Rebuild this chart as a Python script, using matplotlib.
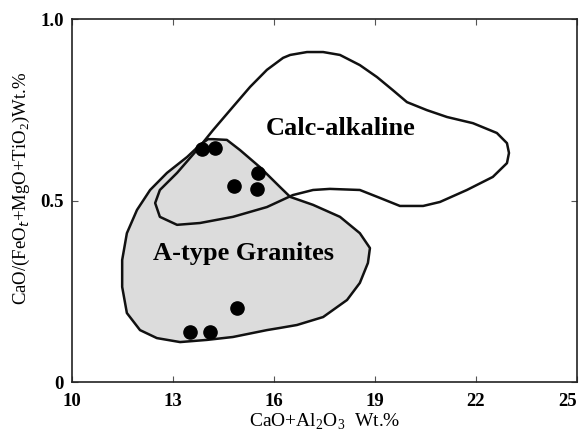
import matplotlib
matplotlib.use("Agg")
import matplotlib.pyplot as plt

# Field outlines (CaO+Al2O3, CaO/(FeOt+MgO+TiO2))
a_type_x = [14.04, 14.19, 14.60, 14.99, 15.58, 16.18, 16.48, 17.16, 17.96, 18.55,
            18.85, 18.79, 18.55, 18.17, 17.46, 16.68, 16.18, 15.79, 14.78, 14.01,
            13.21, 12.52, 12.02, 11.63, 11.49, 11.49, 11.63, 11.93, 12.32, 12.82,
            13.42, 13.80]
a_type_y = [0.669, 0.669, 0.667, 0.639, 0.592, 0.537, 0.510, 0.488, 0.455, 0.410,
            0.369, 0.328, 0.273, 0.226, 0.179, 0.157, 0.149, 0.143, 0.124, 0.116,
            0.110, 0.121, 0.143, 0.190, 0.262, 0.336, 0.410, 0.474, 0.529, 0.576,
            0.620, 0.653]

calc_alk_x = [12.47, 12.61, 13.12, 13.80, 14.78, 15.79, 16.56, 17.16, 17.66, 18.55,
              19.15, 19.74, 20.43, 20.93, 21.73, 22.50, 22.92, 22.98, 22.92, 22.62,
              21.91, 21.14, 20.54, 19.95, 19.53, 19.06, 18.55, 17.96, 17.46, 16.98,
              16.48, 16.27, 15.79, 15.29, 14.78, 14.19, 13.71, 13.12, 12.61]
calc_alk_y = [0.493, 0.455, 0.433, 0.438, 0.455, 0.482, 0.515, 0.529, 0.532, 0.529,
              0.507, 0.485, 0.485, 0.496, 0.529, 0.565, 0.603, 0.631, 0.658, 0.686,
              0.713, 0.730, 0.749, 0.771, 0.804, 0.840, 0.873, 0.901, 0.909, 0.909,
              0.901, 0.893, 0.860, 0.813, 0.758, 0.694, 0.639, 0.576, 0.529]

# Samples
sample_x = [13.85, 14.25, 15.53, 14.82, 15.50, 14.89, 13.50, 14.10]
sample_y = [0.642, 0.645, 0.577, 0.540, 0.532, 0.205, 0.139, 0.139]

x_ticks = [10, 13, 16, 19, 22, 25]
y_ticks = [0, 0.5, 1.0]
y_tick_labels = ["0", "0.5", "1.0"]

plt.rcParams["font.family"] = ["Liberation Serif", "DejaVu Serif"]
plt.rcParams["mathtext.fontset"] = "custom"
plt.rcParams["mathtext.rm"] = "Liberation Serif"

fig = plt.figure(figsize=(5.84, 4.34), dpi=100)
ax = fig.add_axes([0.1233, 0.1198, 0.8647, 0.8364])

ax.fill(a_type_x, a_type_y, facecolor="#dcdcdc", edgecolor="#111111",
        linewidth=1.8, joinstyle="round", zorder=2)
ax.fill(calc_alk_x + calc_alk_x[:1], calc_alk_y + calc_alk_y[:1], facecolor="none",
        edgecolor="#111111", linewidth=1.8, joinstyle="round", zorder=3)
ax.plot(sample_x, sample_y, "o", color="black", markersize=9.5, zorder=4)

ax.text(17.99, 0.697, "Calc-alkaline", fontsize=19, fontweight="bold",
        ha="center", va="center", zorder=5)
ax.text(15.09, 0.353, "A-type Granites", fontsize=19, fontweight="bold",
        ha="center", va="center", zorder=5)

ax.set_xlim(10, 25)
ax.set_ylim(0, 1.0)
ax.set_xticks(x_ticks)
ax.set_yticks(y_ticks, y_tick_labels)
ax.tick_params(direction="in", top=True, right=True, length=4, width=0.8,
               labelsize=13.5, color="#555555")
ax.tick_params(axis="x", pad=8)
ax.tick_params(axis="y", pad=6)
for lab in ax.get_xticklabels() + ax.get_yticklabels():
    lab.set_fontweight("bold")
# keep the last x label inside the canvas
ax.get_xticklabels()[-1].set_horizontalalignment("right")
for spine in ax.spines.values():
    spine.set_linewidth(1.2)
    spine.set_color("#222222")

ax.set_xlabel(r"CaO+Al$_2$O$_3$  Wt.%", fontsize=14, labelpad=1)
ax.set_ylabel(r"CaO/(FeO$_t$+MgO+TiO$_2$)Wt.%", fontsize=13.5)
ax.yaxis.set_label_coords(-0.079, 0.534)

fig.savefig("out.png", dpi=100)
